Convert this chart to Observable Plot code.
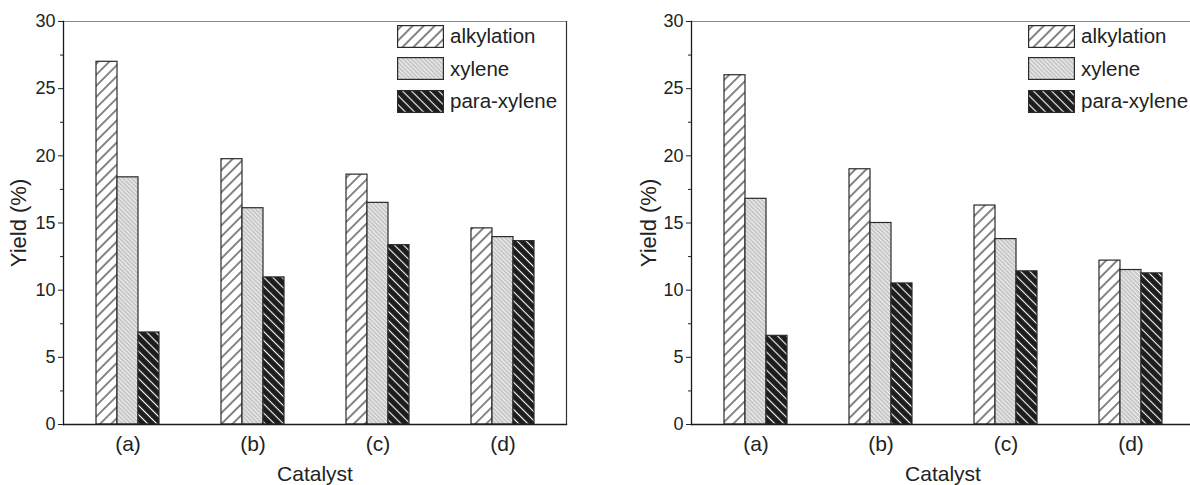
<!DOCTYPE html>
<html>
<head>
<meta charset="utf-8">
<script src="https://cdn.jsdelivr.net/npm/d3@7"></script>
<script src="https://cdn.jsdelivr.net/npm/@observablehq/plot@0.6"></script>
<style>
  html, body { margin: 0; padding: 0; background: #fff; overflow: hidden; }
  #wrap { position: relative; width: 1190px; height: 485px; overflow: hidden; }
  .panel { position: absolute; top: 0; }
  .legend { position: absolute; top: 25px; font-family: "Liberation Sans", Arial, sans-serif; font-size: 20.5px; color: #222; }
  .legend .item { display: flex; align-items: center; height: 22px; margin-bottom: 10.5px; white-space: nowrap; }
  .legend svg { display: block; margin-right: 6px; }
</style>
</head>
<body>
<svg width="0" height="0" style="position:absolute">
  <defs>
    <pattern id="pat-alk" patternUnits="userSpaceOnUse" width="7.8" height="7.8" patternTransform="rotate(45)">
      <rect width="7.8" height="7.8" fill="#ffffff"/>
      <line x1="3.9" y1="0" x2="3.9" y2="7.8" stroke="#222" stroke-width="1.1"/>
    </pattern>
    <pattern id="pat-xyl" patternUnits="userSpaceOnUse" width="3" height="3" patternTransform="rotate(-45)">
      <rect width="3" height="3" fill="#c8c8c8"/>
      <line x1="1.5" y1="0" x2="1.5" y2="3" stroke="#f4f4f4" stroke-width="0.9"/>
    </pattern>
    <pattern id="pat-para" patternUnits="userSpaceOnUse" width="6.4" height="6.4" patternTransform="rotate(-45)">
      <rect width="6.4" height="6.4" fill="#1d1d1d"/>
      <line x1="3.2" y1="0" x2="3.2" y2="6.4" stroke="#ffffff" stroke-width="1.1"/>
    </pattern>
  </defs>
</svg>
<div id="wrap">
  <div class="panel" id="left" style="left:0px;width:600px"></div>
  <div class="panel" id="right" style="left:600px;width:594px"></div>
  <div class="legend" id="legendLeft" style="left:397px"></div>
  <div class="legend" id="legendRight" style="left:1028px"></div>
</div>
<script>
// ---- data ----
const categories = ["(a)", "(b)", "(c)", "(d)"];
const seriesNames = ["alkylation", "xylene", "para-xylene"];
const patterns = ["url(#pat-alk)", "url(#pat-xyl)", "url(#pat-para)"];

const leftAlkylation = [27.0, 19.75, 18.6, 14.6];
const leftXylene     = [18.4, 16.1, 16.5, 13.95];
const leftPara       = [6.85, 10.95, 13.35, 13.65];

const rightAlkylation = [26.0, 19.0, 16.3, 12.2];
const rightXylene     = [16.8, 15.0, 13.8, 11.5];
const rightPara       = [6.6, 10.5, 11.4, 11.25];

const yTicks = [0, 5, 10, 15, 20, 25, 30];
const yMinorTicks = [2.5, 7.5, 12.5, 17.5, 22.5, 27.5];

const xLabel = "Catalyst";
const yLabel = "Yield (%)";

// ---- chart ----
const FONT = "'Liberation Sans', Arial, sans-serif";
const insets = [
  {insetLeft: 0, insetRight: 42},
  {insetLeft: 21, insetRight: 21},
  {insetLeft: 42, insetRight: 0}
];

function rows(arr, s) {
  return categories.map((c, i) => ({category: c, value: arr[i], series: s}));
}

function chart(seriesValues, width, marginLeft, yLabelDx) {
  const plotW = 503;
  const bars = seriesValues.map((vals, j) =>
    Plot.barY(rows(vals, seriesNames[j]), {
      x: "category", y: "value",
      fill: patterns[j], stroke: "#2a2a2a", strokeWidth: 1.2,
      ...insets[j]
    })
  );
  return Plot.plot({
    width, height: 485,
    marginLeft, marginRight: width - marginLeft - plotW,
    marginTop: 21, marginBottom: 61,
    style: {fontFamily: FONT, fontSize: "18px", color: "#222", background: "transparent", overflow: "visible"},
    x: {domain: categories, paddingInner: 0.496, paddingOuter: 0.26, label: null, axis: null},
    y: {domain: [0, 30], label: null},
    marks: [
      ...bars,
      Plot.frame({anchor: "top", stroke: "#8a8a8a", strokeWidth: 1.2}),
      Plot.frame({anchor: "right", stroke: "#333", strokeWidth: 1.2}),
      Plot.frame({anchor: "left", stroke: "#1a1a1a", strokeWidth: 1.3}),
      Plot.frame({anchor: "bottom", stroke: "#1a1a1a", strokeWidth: 1.3}),
      Plot.axisY({ticks: yMinorTicks, tickSize: 3, tickFormat: () => "", label: null}),
      Plot.axisY({ticks: yTicks, tickSize: 5, tickPadding: 3, label: null}),
      Plot.text(categories, {x: d => d, text: d => d, frameAnchor: "bottom", lineAnchor: "top", dy: 12, fontSize: 21}),
      Plot.text([yLabel], {frameAnchor: "left", textAnchor: "middle", rotate: -90, dx: yLabelDx, fontSize: 22, text: d => d}),
      Plot.text([xLabel], {frameAnchor: "bottom", lineAnchor: "bottom", dy: 56, fontSize: 21, text: d => d})
    ]
  });
}

document.getElementById("left").append(
  chart([leftAlkylation, leftXylene, leftPara], 600, 63, -45)
);
document.getElementById("right").append(
  chart([rightAlkylation, rightXylene, rightPara], 594, 91, -43)
);

function legend(el) {
  seriesNames.forEach((name, j) => {
    const item = document.createElement("div");
    item.className = "item";
    item.innerHTML =
      `<svg width="47" height="23"><rect x="0.6" y="0.6" width="45.8" height="21.8" fill="${patterns[j]}" stroke="#2a2a2a" stroke-width="1.2"/></svg><span>${name}</span>`;
    el.append(item);
  });
}
legend(document.getElementById("legendLeft"));
legend(document.getElementById("legendRight"));
</script>
</body>
</html>
